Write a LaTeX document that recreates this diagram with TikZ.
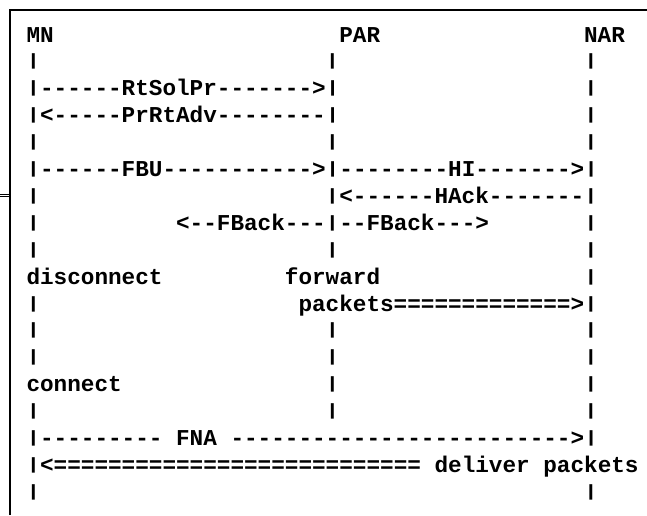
\documentclass[tikz,border=0pt]{standalone}
\usepackage{fontspec}
\usepackage{graphicx}
\setmonofont{Liberation Mono}
\newcommand\vbar{\raisebox{3pt}{\scalebox{1}[0.72]{|}}}
\tikzset{
  asciirow/.style={anchor=base west, inner sep=0pt, outer sep=0pt,
    font=\ttfamily\bfseries\fontsize{22.67}{27}\selectfont},
  frameline/.style={line width=1.1pt}
}
\begin{document}
\begin{tikzpicture}[x=13.6pt,y=-26.9pt]
\useasboundingbox (-26.5pt,42pt) rectangle (620.5pt,-473pt);
% frame
\draw[frameline] (-16.5pt,-473pt) -- (-16.5pt,32pt) -- (620.5pt,32pt);
\draw[line width=0.8pt] (-26.5pt,-152pt) -- (-16.5pt,-152pt);
\draw[line width=0.8pt] (-26.5pt,-154.5pt) -- (-16.5pt,-154.5pt);
% header
\node[asciirow] (mn) at (0,0) {MN};
\node[asciirow] (par) at (23,0) {PAR};
\node[asciirow] (nar) at (41,0) {NAR};
% lifelines
\foreach \c/\r in {0/1,22/1,41/1,41/2,41/3,0/4,22/4,41/4,0/6,0/7,41/7,
                   0/8,22/8,41/8,41/9,0/10,0/11,22/11,41/11,0/12,22/12,41/12,
                   22/13,41/13,0/14,22/14,41/14,0/17,41/17}
  \node[asciirow] (pipe-\c-\r) at (\c,\r) {\vbar};
% messages
\node[asciirow] (rtsolpr) at (0,2) {\vbar------RtSolPr------->\vbar};
\node[asciirow] (prrtadv) at (0,3) {\vbar<-----PrRtAdv--------\vbar};
\node[asciirow] (fbu) at (0,5) {\vbar------FBU----------->\vbar--------HI------->\vbar};
\node[asciirow] (hack) at (22,6) {\vbar<------HAck-------\vbar};
\node[asciirow] (fback) at (11,7) {<--FBack---\vbar--FBack--->};
\node[asciirow] (disc) at (0,9) {disconnect};
\node[asciirow] (fwd) at (19,9) {forward};
\node[asciirow] (pkts) at (20,10) {packets=============>\vbar};
\node[asciirow] (conn) at (0,13) {connect};
\node[asciirow] (fna) at (0,15) {\vbar--------- FNA ------------------------->\vbar};
\node[asciirow] (deliver) at (0,16) {\vbar<=========================== deliver packets};
\end{tikzpicture}
\end{document}
